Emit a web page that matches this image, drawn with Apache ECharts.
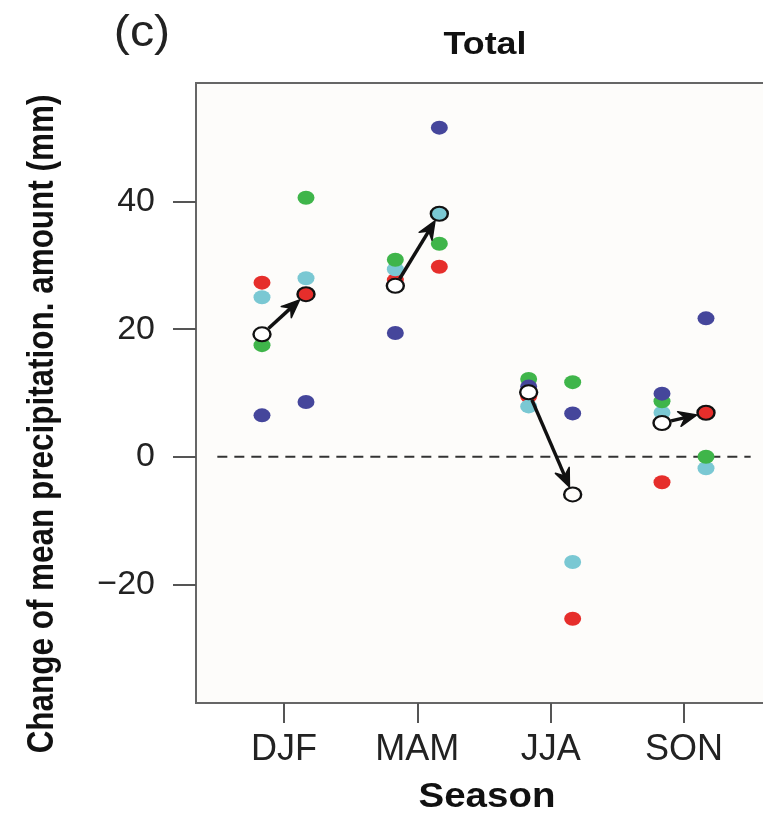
<!DOCTYPE html>
<html>
<head>
<meta charset="utf-8">
<script src="https://cdn.jsdelivr.net/npm/echarts@6/dist/echarts.min.js"></script>
<style>
 html,body{margin:0;padding:0;background:#fff;}
 #chart{width:763px;height:813px;}
</style>
</head>
<body>
<div id="chart"></div>
<script>
 var seasons=['DJF','MAM','JJA','SON'];
 var yTicks=[-20,0,20,40];
 var xTicks=[1,2,3,4];

 // left column (first period) and right column (second period) of each season
 var redL=[27.3,27.7,9.5,-4.0];
 var redR=[25.5,29.8,-25.4,6.9];
 var cyanL=[25.0,29.4,7.9,6.9];
 var cyanR=[28.0,38.1,-16.5,-1.8];
 var greenL=[17.5,30.9,12.2,8.7];
 var greenR=[40.6,33.4,11.7,0.0];
 var navyL=[6.5,19.4,11.0,9.9];
 var navyR=[8.6,51.6,6.8,21.7];
 // ensemble means (open circles)
 var meanL=[19.2,26.8,10.1,5.3];
 var meanR=[25.5,38.1,-5.9,6.9];

 var offL=-0.165, offR=0.165;
 var font="'Liberation Sans', Arial, sans-serif";

 function pts(vals,off){
	 var out=[];
	 for(var i=0;i<vals.length;i++){
		 out.push([i+1+off,vals[i]]);
	 }
	 return out;
 }

 function dots(name,vals,off,color){
	 return {
		 name:name,
		 type:'scatter',
		 data:pts(vals,off),
		 symbol:'circle',
		 symbolSize:[17,14],
		 itemStyle:{color:color,opacity:1},
		 z:3,
		 silent:true
	 };
 }

 function rings(vals,off,fill,z){
	 return {
		 type:'scatter',
		 data:pts(vals,off),
		 symbol:'circle',
		 symbolSize:[17,14],
		 itemStyle:{color:fill,borderColor:'#111',borderWidth:2.2,opacity:1},
		 z:z,silent:true
	 };
 }

 var arrowData=[];
 for(var i=0;i<seasons.length;i++){
	 arrowData.push([i+1+offL,meanL[i],i+1+offR,meanR[i]]);
 }

 // radius of the ring (ellipse) along a direction
 function ringR(ux,uy){
	 var rx=9.5, ry=8;
	 return 1/Math.sqrt(ux*ux/(rx*rx)+uy*uy/(ry*ry));
 }

 function renderArrow(params,api){
	 var p0=api.coord([api.value(0),api.value(1)]);
	 var p1=api.coord([api.value(2),api.value(3)]);
	 var dx=p1[0]-p0[0], dy=p1[1]-p0[1];
	 var len=Math.sqrt(dx*dx+dy*dy);
	 var ux=dx/len, uy=dy/len;
	 var nx=-uy, ny=ux;
	 var r=ringR(ux,uy);
	 var s=[p0[0]+ux*r,p0[1]+uy*r];
	 var e=[p1[0]-ux*r,p1[1]-uy*r];
	 var hl=18, hw=7.5, notch=12;
	 var back=[e[0]-ux*hl,e[1]-uy*hl];
	 var nt=[e[0]-ux*notch,e[1]-uy*notch];
	 return {
		 type:'group',
		 children:[
			 {type:'line',shape:{x1:s[0],y1:s[1],x2:nt[0],y2:nt[1]},
			  style:{stroke:'#111',lineWidth:3.5}},
			 {type:'polygon',shape:{points:[e,[back[0]+nx*hw,back[1]+ny*hw],nt,[back[0]-nx*hw,back[1]-ny*hw]]},
			  style:{fill:'#111',stroke:'#111',lineWidth:1.5,lineJoin:'round'}}
		 ]
	 };
 }

 var myChart=echarts.init(document.getElementById('chart'));
 var option={
	 animation:false,
	 backgroundColor:'#fff',
	 grid:{
		 show:true,
		 left:196,top:83,width:576,bottom:110,
		 outerBoundsMode:'none',
		 containLabel:false,
		 borderColor:'#666',borderWidth:2,
		 backgroundColor:'#fdfcfa'
	 },
	 xAxis:{
		 type:'value',
		 min:0.34,max:4.66,
		 splitLine:{show:false},
		 axisLine:{show:false,onZero:false},
		 axisTick:{show:true,customValues:xTicks,length:20,lineStyle:{color:'#555',width:2}},
		 axisLabel:{
			 customValues:xTicks,
			 formatter:function(v){return seasons[Math.round(v)-1];},
			 fontSize:36,color:'#222',fontFamily:font,margin:29
		 }
	 },
	 yAxis:{
		 type:'value',
		 min:-38.6,max:58.6,
		 splitLine:{show:false},
		 axisLine:{show:false,onZero:false},
		 axisTick:{show:true,customValues:yTicks,length:23,lineStyle:{color:'#555',width:2}},
		 axisLabel:{
			 customValues:yTicks,
			 formatter:function(v){return v<0?'\u2212'+Math.abs(v):String(v);},
			 fontSize:34,color:'#222',fontFamily:font,margin:41
		 }
	 },
	 graphic:[
		 {type:'text',x:142,y:34,scaleX:1.1,style:{text:'(c)',fontSize:44,fontFamily:font,fill:'#222',textAlign:'center',textVerticalAlign:'middle'}},
		 {type:'text',x:485,y:45,scaleX:1.12,style:{text:'Total',fontSize:32,fontWeight:'bold',fontFamily:font,fill:'#111',textAlign:'center',textVerticalAlign:'middle'}},
		 {type:'text',x:487,y:797,scaleX:1.1,style:{text:'Season',fontSize:35,fontWeight:'bold',fontFamily:font,fill:'#111',textAlign:'center',textVerticalAlign:'middle'}},
		 {type:'text',x:43,y:424,rotation:Math.PI/2,scaleX:0.85,
		  style:{text:'Change of mean precipitation. amount (mm)',fontSize:37,fontWeight:'bold',
		  fontFamily:font,fill:'#111',textAlign:'center',textVerticalAlign:'middle'}}
	 ],
	 series:[
		 {
			 type:'line',
			 data:[[0.5,0],[4.5,0]],
			 symbol:'none',
			 lineStyle:{color:'#333',width:2,type:[10,7]},
			 z:1,silent:true
		 },
		 dots('red L',redL,offL,'#e62e2b'),
		 dots('cyan L',cyanL,offL,'#7ac8d3'),
		 dots('green L',greenL,offL,'#3fb54a'),
		 dots('navy L',navyL,offL,'#45469b'),
		 dots('red R',redR,offR,'#e62e2b'),
		 dots('cyan R',cyanR,offR,'#7ac8d3'),
		 dots('green R',greenR,offR,'#3fb54a'),
		 dots('navy R',navyR,offR,'#45469b'),
		 {
			 type:'custom',
			 renderItem:renderArrow,
			 data:arrowData,
			 encode:{x:[0,2],y:[1,3]},
			 z:4,silent:true
		 },
		 rings(meanL,offL,'#fff',5),
		 rings(meanR,offR,'rgba(0,0,0,0)',6)
	 ]
 };
 myChart.setOption(option);
</script>
</body>
</html>
